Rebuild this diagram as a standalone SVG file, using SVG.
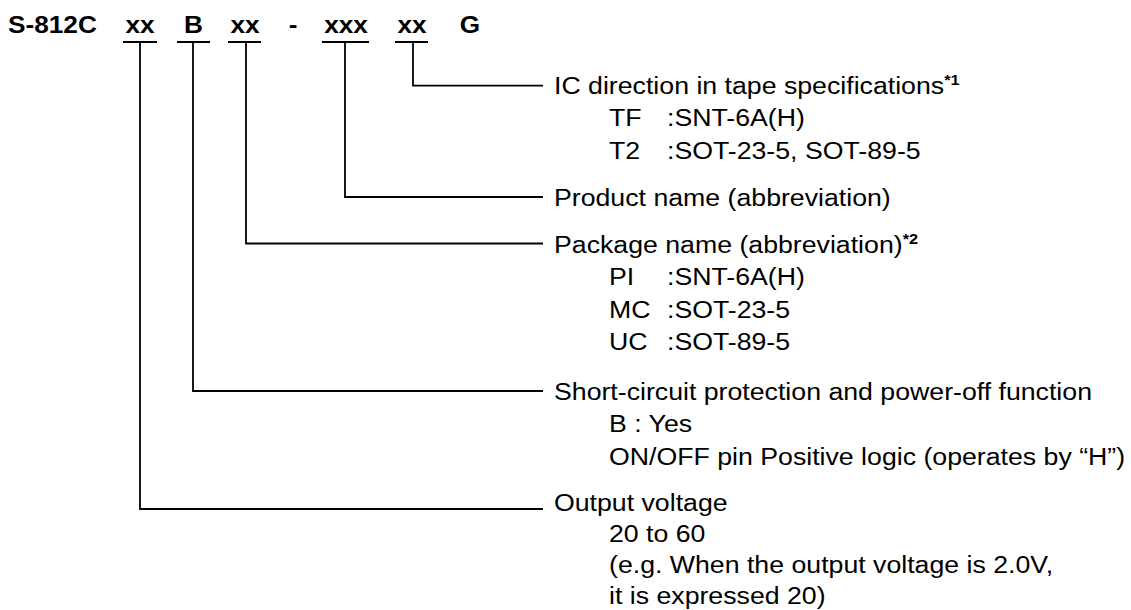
<svg xmlns="http://www.w3.org/2000/svg" width="1131" height="610" viewBox="0 0 1131 610">
<style>
text{font-family:"Liberation Sans",Arial,Helvetica,sans-serif;font-size:24.5px;fill:#000}
.b{font-weight:bold}
.m{text-anchor:middle}
.sup{font-size:15px;font-weight:bold}
.c{fill:none;stroke:#000;stroke-width:1.8;stroke-linecap:butt;stroke-linejoin:miter}
</style>
<rect width="1131" height="610" fill="#fff"/>
<g id="code">
<text class="b" transform="translate(8,33) scale(1.07,1)">S-812C</text>
<text class="b m" transform="translate(140,33) scale(1.07,1)">xx</text>
<text class="b m" transform="translate(193.5,33) scale(1.07,1)">B</text>
<text class="b m" transform="translate(245,33) scale(1.07,1)">xx</text>
<text class="b m" transform="translate(293,33) scale(1.07,1)">-</text>
<text class="b m" transform="translate(346,33) scale(1.07,1)">xxx</text>
<text class="b m" transform="translate(412,33) scale(1.07,1)">xx</text>
<text class="b m" transform="translate(470,33) scale(1.07,1)">G</text>
<path class="c" d="M123 42H157M177 42H210M228 42H261M322 42H369M395 42H428"/>
</g>
<g id="connectors">
<path class="c" d="M413 42V85.7H543"/>
<path class="c" d="M345 42V197H543"/>
<path class="c" d="M246 42V243.5H543"/>
<path class="c" d="M193 42V391H543"/>
<path class="c" d="M140 42V509H543"/>
</g>
<g id="tape">
<text transform="translate(554,93.5) scale(1.09,1)">IC direction in tape specifications<tspan class="sup" dy="-9">*1</tspan></text>
<text transform="translate(609,126) scale(1.09,1)">TF</text>
<text transform="translate(667,126) scale(1.09,1)">:SNT-6A(H)</text>
<text transform="translate(609,158.5) scale(1.09,1)">T2</text>
<text transform="translate(667,158.5) scale(1.09,1)">:SOT-23-5, SOT-89-5</text>
</g>
<g id="product">
<text transform="translate(554,205.5) scale(1.09,1)">Product name (abbreviation)</text>
</g>
<g id="package">
<text transform="translate(554,252.5) scale(1.09,1)">Package name (abbreviation)<tspan class="sup" dy="-9">*2</tspan></text>
<text transform="translate(609,285) scale(1.09,1)">PI</text>
<text transform="translate(667,285) scale(1.09,1)">:SNT-6A(H)</text>
<text transform="translate(609,317.5) scale(1.09,1)">MC</text>
<text transform="translate(667,317.5) scale(1.09,1)">:SOT-23-5</text>
<text transform="translate(609,350) scale(1.09,1)">UC</text>
<text transform="translate(667,350) scale(1.09,1)">:SOT-89-5</text>
</g>
<g id="protection">
<text transform="translate(554,399.5) scale(1.09,1)">Short-circuit protection and power-off function</text>
<text transform="translate(609,432) scale(1.09,1)">B : Yes</text>
<text transform="translate(609,464.5) scale(1.09,1)">ON/OFF pin Positive logic (operates by “H”)</text>
</g>
<g id="voltage">
<text transform="translate(554,510.5) scale(1.09,1)">Output voltage</text>
<text transform="translate(609,542) scale(1.09,1)">20 to 60</text>
<text transform="translate(609,573) scale(1.09,1)">(e.g. When the output voltage is 2.0V,</text>
<text transform="translate(609,603.5) scale(1.09,1)">it is expressed 20)</text>
</g>
</svg>
